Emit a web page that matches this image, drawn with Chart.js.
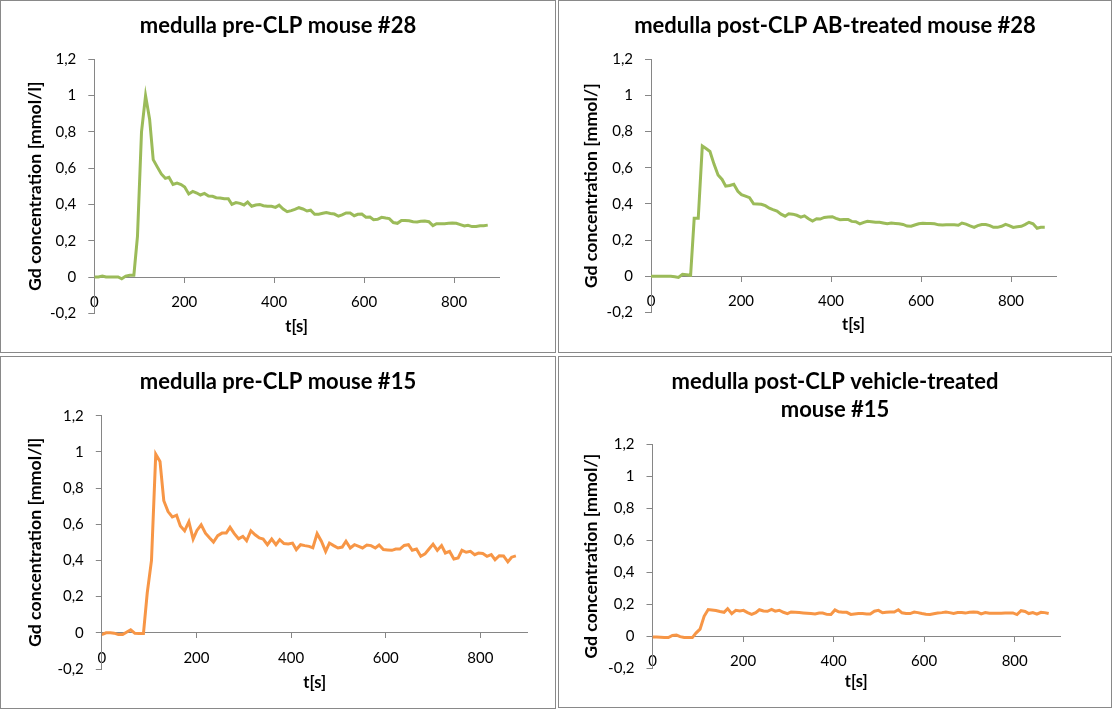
<!DOCTYPE html>
<html>
<head>
<meta charset="utf-8">
<script src="https://cdn.jsdelivr.net/npm/chart.js@4.4.1/dist/chart.umd.min.js"></script>
<style>
  html, body { margin: 0; padding: 0; background: #fff; }
  body { width: 1113px; height: 710px; position: relative; overflow: hidden; }
  .panel { position: absolute; border: 1px solid #898989; box-sizing: border-box; background: #fff; }
  .panel canvas { display: block; }
</style>
</head>
<body>
<div class="panel" style="left:0;top:0;width:556px;height:353px"><canvas id="c1" width="554" height="351"></canvas></div>
<div class="panel" style="left:558px;top:0;width:554px;height:353px"><canvas id="c2" width="552" height="351"></canvas></div>
<div class="panel" style="left:0;top:356px;width:556px;height:353px"><canvas id="c3" width="554" height="351"></canvas></div>
<div class="panel" style="left:558px;top:356px;width:554px;height:352px"><canvas id="c4" width="552" height="350"></canvas></div>
<script>
// time points [s]
const times = [0, 9, 18, 26, 35, 44, 53, 61, 70, 79,
  88, 96, 105, 114, 123, 131, 140, 149, 158, 166,
  175, 184, 193, 201, 210, 219, 228, 236, 245, 254,
  263, 271, 280, 289, 298, 306, 315, 324, 333, 341,
  350, 359, 368, 376, 385, 394, 403, 411, 420, 429,
  438, 446, 455, 464, 473, 481, 490, 499, 508, 516,
  525, 534, 543, 551, 560, 569, 578, 586, 595, 604,
  613, 621, 630, 639, 648, 656, 665, 674, 683, 691,
  700, 709, 718, 726, 735, 744, 753, 761, 770, 779,
  788, 796, 805, 814, 823, 831, 840, 849, 858, 866,
  875]

// Gd concentration [mmol/l]
const pre28 = [0, 0, 0.005, 0, 0, 0, 0, -0.01, 0.005, 0.01,
  0.01, 0.224, 0.80, 1.0, 0.87, 0.647, 0.607, 0.568, 0.544, 0.55,
  0.51, 0.518, 0.51, 0.496, 0.458, 0.472, 0.463, 0.452, 0.461, 0.447,
  0.445, 0.437, 0.436, 0.432, 0.432, 0.40, 0.41, 0.406, 0.397, 0.413,
  0.39, 0.397, 0.40, 0.393, 0.39, 0.39, 0.384, 0.396, 0.375, 0.36,
  0.366, 0.373, 0.382, 0.375, 0.364, 0.368, 0.346, 0.346, 0.351, 0.355,
  0.35, 0.347, 0.335, 0.342, 0.353, 0.353, 0.338, 0.346, 0.347, 0.33,
  0.331, 0.316, 0.318, 0.329, 0.325, 0.322, 0.30, 0.296, 0.312, 0.312,
  0.31, 0.305, 0.303, 0.307, 0.309, 0.305, 0.283, 0.294, 0.294, 0.294,
  0.296, 0.298, 0.296, 0.289, 0.281, 0.285, 0.278, 0.278, 0.282, 0.283,
  0.286]

const post28 = [0, 0, 0, 0, 0, 0, -0.003, -0.007, 0.01, 0.008,
  0.005, 0.32, 0.32, 0.72, 0.705, 0.69, 0.62, 0.56, 0.535, 0.498,
  0.502, 0.508, 0.47, 0.451, 0.443, 0.434, 0.40, 0.399, 0.398, 0.39,
  0.376, 0.368, 0.36, 0.343, 0.332, 0.345, 0.343, 0.337, 0.327, 0.334,
  0.318, 0.305, 0.318, 0.316, 0.325, 0.327, 0.329, 0.32, 0.312, 0.313,
  0.314, 0.303, 0.301, 0.289, 0.298, 0.304, 0.301, 0.298, 0.298, 0.294,
  0.29, 0.294, 0.292, 0.29, 0.286, 0.277, 0.276, 0.283, 0.29, 0.293,
  0.292, 0.291, 0.29, 0.284, 0.283, 0.285, 0.285, 0.285, 0.282, 0.294,
  0.288, 0.278, 0.27, 0.28, 0.286, 0.286, 0.28, 0.27, 0.27, 0.276,
  0.287, 0.28, 0.27, 0.273, 0.276, 0.285, 0.298, 0.29, 0.265, 0.27,
  0.27]

const pre15 = [-0.01, 0, 0, -0.002, -0.01, -0.01, 0.005, 0.017, -0.003, -0.004,
  -0.004, 0.22, 0.40, 0.987, 0.947, 0.73, 0.67, 0.64, 0.65, 0.59,
  0.564, 0.614, 0.518, 0.566, 0.597, 0.551, 0.524, 0.502, 0.537, 0.551,
  0.551, 0.583, 0.548, 0.52, 0.533, 0.509, 0.564, 0.542, 0.524, 0.518,
  0.487, 0.518, 0.487, 0.515, 0.493, 0.491, 0.496, 0.46, 0.487, 0.482,
  0.478, 0.47, 0.548, 0.506, 0.45, 0.496, 0.482, 0.469, 0.474, 0.506,
  0.469, 0.487, 0.478, 0.469, 0.485, 0.482, 0.469, 0.485, 0.46, 0.458,
  0.456, 0.463, 0.463, 0.483, 0.487, 0.456, 0.463, 0.423, 0.436, 0.462,
  0.49, 0.456, 0.482, 0.441, 0.45, 0.408, 0.414, 0.456, 0.445, 0.45,
  0.432, 0.441, 0.438, 0.423, 0.432, 0.404, 0.426, 0.425, 0.392, 0.418,
  0.425]

const post15 = [-0.004, -0.005, -0.006, -0.007, -0.008, 0.005, 0.008, -0.002, -0.008, -0.008,
  -0.008, 0.02, 0.045, 0.125, 0.167, 0.164, 0.161, 0.155, 0.15, 0.173,
  0.142, 0.162, 0.158, 0.162, 0.148, 0.137, 0.148, 0.166, 0.158, 0.156,
  0.168, 0.157, 0.163, 0.15, 0.142, 0.152, 0.15, 0.148, 0.146, 0.144,
  0.142, 0.14, 0.145, 0.145, 0.137, 0.136, 0.165, 0.153, 0.15, 0.15,
  0.137, 0.14, 0.142, 0.142, 0.14, 0.14, 0.157, 0.162, 0.147, 0.15,
  0.152, 0.152, 0.166, 0.147, 0.142, 0.142, 0.152, 0.148, 0.142, 0.138,
  0.136, 0.141, 0.145, 0.148, 0.152, 0.148, 0.143, 0.148, 0.148, 0.145,
  0.15, 0.152, 0.15, 0.14, 0.148, 0.144, 0.144, 0.144, 0.144, 0.145,
  0.146, 0.146, 0.136, 0.16, 0.155, 0.142, 0.148, 0.138, 0.15, 0.148,
  0.142]

const GREEN = "#9bbb59"
const ORANGE = "#f79646"
const AXIS = "#868686"

const titleFont = { family: "Lato", size: 22, weight: "bold", lineHeight: 1.29 }
const yTitleFont = { family: "Lato", size: 17.8, weight: "bold", lineHeight: 1.2 }
const xTitleFont = { family: "Lato", size: 16.5, weight: "bold", lineHeight: 1.2 }
const tickFont = { family: "Lato", size: 15 }

function fmt(v) {
  return String(Math.round(v * 10) / 10).replace(".", ",")
}

function makeChart(id, title, yTitle, values, color, g) {
  const canvas = document.getElementById(id)
  const W = canvas.width, H = canvas.height
  const lines = Array.isArray(title) ? title.length : 1
  const lhT = titleFont.size * titleFont.lineHeight
  const lhY = yTitleFont.size * yTitleFont.lineHeight
  const lhX = xTitleFont.size * xTitleFont.lineHeight
  const titleTop = g.titleY - lhT / 2
  const titleBottom = g.top - titleTop - lines * lhT
  const xHeight = H - g.bottom

  return new Chart(canvas, {
    type: "line",
    data: {
      datasets: [{
        data: times.map((t, i) => ({ x: t, y: values[i] })),
        borderColor: color,
        borderWidth: 3,
        pointRadius: 0,
        tension: 0,
        fill: false
      }]
    },
    options: {
      responsive: false,
      animation: false,
      events: [],
      layout: { padding: { left: 0, right: 0, top: 0, bottom: H - g.bottom } },
      plugins: {
        legend: { display: false },
        tooltip: { enabled: false },
        title: {
          display: true,
          text: title,
          color: "#000",
          font: titleFont,
          padding: { top: titleTop, bottom: titleBottom }
        }
      },
      scales: {
        x: {
          type: "linear",
          position: { y: 0 },
          min: 0,
          max: 900,
          ticks: { stepSize: 200, color: "#000", font: tickFont, padding: 11, maxRotation: 0 },
          grid: { drawOnChartArea: false, tickLength: 5, color: AXIS },
          border: { color: AXIS },
          title: {
            display: true,
            text: "t[s]",
            color: "#000",
            font: xTitleFont,
            padding: { top: 0, bottom: xHeight - lhX / 2 - g.xTitle }
          },
          afterBuildTicks: function(scale) {
            scale.ticks = scale.ticks.filter(t => t.value % 200 === 0)
          },
          afterFit: function(scale) { scale.height = xHeight }
        },
        y: {
          min: -0.2,
          max: 1.2,
          ticks: { stepSize: 0.2, color: "#000", font: tickFont, padding: 12, callback: fmt },
          grid: { drawOnChartArea: false, tickLength: 6, color: AXIS },
          border: { color: AXIS },
          title: {
            display: true,
            text: yTitle,
            color: "#000",
            font: yTitleFont,
            padding: { top: g.yTitleX - lhY / 2, bottom: 0 }
          },
          afterFit: function(scale) { scale.width = g.left }
        },
        // empty right-hand margin so the chart title stays centred on the panel
        margin: {
          position: "right",
          ticks: { display: false },
          grid: { display: false },
          border: { display: false },
          afterFit: function(scale) { scale.width = W - g.right }
        }
      }
    }
  })
}

function drawAll() {
  makeChart("c1", "medulla pre-CLP mouse #28", "Gd concentration [mmol/l]", pre28, GREEN,
    { left: 93.3, right: 498, top: 58.3, bottom: 312.3, titleY: 25, yTitleX: 34, xTitle: 50 })
  makeChart("c2", "medulla post-CLP AB-treated mouse #28", "Gd concentration [mmol/]", post28, GREEN,
    { left: 92, right: 497, top: 58.3, bottom: 311.3, titleY: 25, yTitleX: 31.8, xTitle: 49 })
  makeChart("c3", "medulla pre-CLP mouse #15", "Gd concentration [mmol/l]", pre15, ORANGE,
    { left: 100.8, right: 526.7, top: 58.7, bottom: 312, titleY: 24.7, yTitleX: 34, xTitle: 50 })
  makeChart("c4", ["medulla post-CLP vehicle-treated", "mouse #15"], "Gd concentration [mmol/]", post15, ORANGE,
    { left: 93.5, right: 501, top: 87.3, bottom: 311.3, titleY: 24.7, yTitleX: 32.5, xTitle: 45 })
}

Promise.all([
  document.fonts.load("bold 22px Lato"),
  document.fonts.load("15px Lato")
]).then(drawAll, drawAll)
</script>
</body>
</html>
